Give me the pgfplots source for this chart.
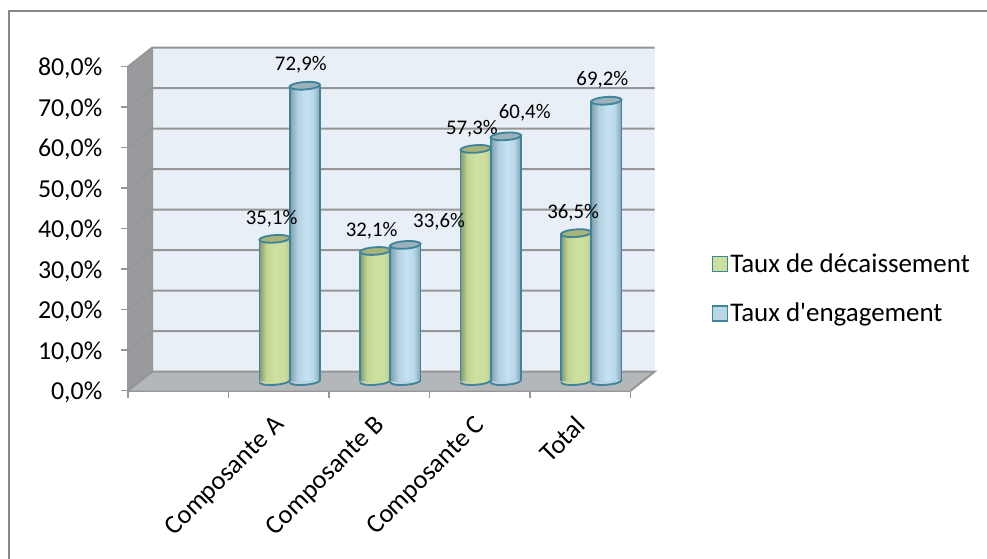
\documentclass[border=0pt]{standalone}
\usepackage{fontspec}
\setmainfont{Carlito}[Ligatures=TeXOff]
\usepackage{pgfplots}
\usepackage{pgfplotstable}
\pgfplotsset{compat=1.18}
\definecolor{edgeC}{HTML}{40849C}
\definecolor{wallC}{HTML}{E8EFF6}
\definecolor{sideC}{HTML}{989A9D}
\definecolor{floorC}{HTML}{B4B7BA}
\definecolor{gridC}{HTML}{969696}
\definecolor{greenFlat}{HTML}{CDDF9D}
\definecolor{blueFlat}{HTML}{B9D6E4}
\definecolor{greenTop}{HTML}{A9B47A}
\definecolor{blueTop}{HTML}{9BB1BC}
\pgfdeclarehorizontalshading{cylgreen}{100bp}{
 rgb(0bp)=(0.52,0.60,0.44);rgb(25bp)=(0.52,0.60,0.44);rgb(36bp)=(0.76,0.84,0.58);rgb(50bp)=(0.81,0.88,0.63);rgb(65bp)=(0.80,0.87,0.62);rgb(75bp)=(0.72,0.80,0.56);rgb(100bp)=(0.72,0.80,0.56)}
\pgfdeclarehorizontalshading{cylblue}{100bp}{
 rgb(0bp)=(0.50,0.62,0.68);rgb(25bp)=(0.50,0.62,0.68);rgb(38bp)=(0.70,0.82,0.88);rgb(52bp)=(0.77,0.89,0.95);rgb(64bp)=(0.72,0.85,0.91);rgb(75bp)=(0.52,0.63,0.69);rgb(100bp)=(0.52,0.63,0.69)}
\pgfdeclareplotmark{topel}{%
 \pgfpathellipse{\pgfpointorigin}{\pgfqpoint{11.4pt}{0.8pt}}{\pgfqpoint{-0.2pt}{2.8pt}}%
 \pgfusepathqfillstroke}
\pgfdeclareplotmark{botel}{%
 \pgfpathmoveto{\pgfqpoint{-11.4pt}{-0.8pt}}%
 \pgfpathcurveto{\pgfqpoint{-11.4pt}{-4.6pt}}{\pgfqpoint{11.4pt}{-3pt}}{\pgfqpoint{11.4pt}{0.8pt}}%
 \pgfusepathqfillstroke}
\pgfplotstableread{
x y base dx dy
1.35 35.1 0 -2.2 14.9
2.35 32.1 0 -2.6 15.0
3.35 57.3 0 -2.8 15.0
4.35 36.5 0 -2.2 15.0
}\greenT
\pgfplotstableread{
x y base dx dy
1.65 72.9 0 -3.0 15.6
2.65 33.6 0 25.3 17.2
3.65 60.4 0 14.2 17.5
4.65 69.2 0 -3.0 15.5
}\blueT
\newcommand{\sz}[1]{\fontsize{#1}{#1}\selectfont}
\begin{document}
\begin{tikzpicture}
\path[use as bounding box] (0,0) rectangle (740.25pt,419.25pt);
\draw[color=gridC!90!black,line width=1.6pt] (7pt,0) -- (7pt,411pt) -- (740.25pt,411pt);
\begin{axis}[
 at={(96pt,126.2pt)},anchor=south west,scale only axis,
 width=376.875pt,height=243pt,clip=false,
 xmin=0,xmax=5,ymin=0,ymax=80,
 axis lines=left,axis line style={-,color=gridC,line width=1.2pt},
 tick style={color=gridC,line width=1.1pt},
 tick align=outside,major tick length=5.25pt,
 xtick={0,1,2,3,4,5},xticklabels={},
 extra x ticks={1.5,2.5,3.5,4.5},
 extra x tick labels={Composante A,Composante B,Composante C,Total},
 extra x tick style={major tick length=0pt,tick label style={xshift=-4.5pt,yshift=-12.5pt,rotate=45,anchor=north east,font=\sz{19.8}}},
 ytick={0,10,...,80},
 /pgf/number format/assume math mode=true,
 yticklabel={\pgfmathprintnumber[fixed,fixed zerofill,precision=1,use comma]{\tick}\%},
 yticklabel style={font=\sz{19.4},xshift=-10.5pt,yshift=-1.5pt},
 unbounded coords=jump,
 legend style={draw=none,fill=none,at={(1.155,0.315)},anchor=west,font=\sz{20.2},
   row sep=17.5pt,legend cell align=left,
   /tikz/every even column/.append style={column sep=4pt}},
]
\addplot[fill=wallC,draw=none,forget plot] coordinates {(0.2388,4.69)(0.2388,84.69)(5.2388,84.69)(5.2388,4.69)} -- cycle;
\addplot[fill=sideC,draw=none,forget plot] coordinates {(0,0)(0,80)(0.2388,84.69)(0.2388,4.69)} -- cycle;
\addplot[fill=floorC,draw=none,forget plot] coordinates {(0,0)(0.2388,4.69)(5.2388,4.69)(5,0)} -- cycle;
\addplot[color=gridC,line width=1.5pt,forget plot] coordinates {
 (0,0)(0.2388,4.69)(5.2388,4.69)(5,0) (nan,nan)
 (0,10)(0.2388,14.69)(5.2388,14.69) (nan,nan)
 (0,20)(0.2388,24.69)(5.2388,24.69) (nan,nan)
 (0,30)(0.2388,34.69)(5.2388,34.69) (nan,nan)
 (0,40)(0.2388,44.69)(5.2388,44.69) (nan,nan)
 (0,50)(0.2388,54.69)(5.2388,54.69) (nan,nan)
 (0,60)(0.2388,64.69)(5.2388,64.69) (nan,nan)
 (0,70)(0.2388,74.69)(5.2388,74.69) (nan,nan)
 (0,80)(0.2388,84.69)(5.2388,84.69) (nan,nan)
 (0.2388,4.69)(0.2388,84.69)
};
\addlegendimage{only marks,mark=square*,mark size=5.6pt,mark options={fill=greenFlat,draw=edgeC,line width=1.2pt}}
\addlegendentry{Taux de décaissement}
\addlegendimage{only marks,mark=square*,mark size=5.6pt,mark options={fill=blueFlat,draw=edgeC,line width=1.2pt}}
\addlegendentry{Taux d'engagement}
\end{axis}
\begin{axis}[
 at={(104.25pt,133.5pt)},anchor=south west,scale only axis,
 width=376.875pt,height=243pt,clip=false,
 xmin=0,xmax=5,ymin=0,ymax=80,hide axis,
 /pgf/number format/assume math mode=true,
]
% green series
\addplot[only marks,mark=botel,mark options={fill=greenFlat,draw=edgeC,line width=1.4pt}] table[x=x,y=base] {\greenT};
\addplot[ybar,bar width=22.8pt,bar shift=0pt,draw=none,shading=cylgreen] coordinates {(1.35,35.1)};
\addplot[ybar,bar width=22.8pt,bar shift=0pt,draw=none,shading=cylgreen] coordinates {(2.35,32.1)};
\addplot[ybar,bar width=22.8pt,bar shift=0pt,draw=none,shading=cylgreen] coordinates {(3.35,57.3)};
\addplot[ybar,bar width=22.8pt,bar shift=0pt,draw=none,shading=cylgreen] coordinates {(4.35,36.5)};
\addplot[ybar,bar width=0pt,bar shift=-11.4pt,draw=edgeC,line width=1.4pt] table[x=x,y=y] {\greenT};
\addplot[ybar,bar width=0pt,bar shift=11.4pt,draw=edgeC,line width=1.4pt] table[x=x,y=y] {\greenT};
\addplot[only marks,mark=topel,mark options={fill=greenTop,draw=edgeC,line width=1.4pt},
 visualization depends on={\thisrow{dx} \as \dxv},
 visualization depends on={\thisrow{dy} \as \dyv},
 nodes near coords={\pgfmathprintnumber[fixed,fixed zerofill,precision=1,use comma]{\pgfplotspointmeta}\%},
 every node near coord/.append style={anchor=center,xshift=\dxv pt,yshift=\dyv pt,font=\sz{15.6},text=black}] table[x=x,y=y] {\greenT};
% blue series
\addplot[only marks,mark=botel,mark options={fill=blueFlat,draw=edgeC,line width=1.4pt}] table[x=x,y=base] {\blueT};
\addplot[ybar,bar width=22.8pt,bar shift=0pt,draw=none,shading=cylblue] coordinates {(1.65,72.9)};
\addplot[ybar,bar width=22.8pt,bar shift=0pt,draw=none,shading=cylblue] coordinates {(2.65,33.6)};
\addplot[ybar,bar width=22.8pt,bar shift=0pt,draw=none,shading=cylblue] coordinates {(3.65,60.4)};
\addplot[ybar,bar width=22.8pt,bar shift=0pt,draw=none,shading=cylblue] coordinates {(4.65,69.2)};
\addplot[ybar,bar width=0pt,bar shift=-11.4pt,draw=edgeC,line width=1.4pt] table[x=x,y=y] {\blueT};
\addplot[ybar,bar width=0pt,bar shift=11.4pt,draw=edgeC,line width=1.4pt] table[x=x,y=y] {\blueT};
\addplot[only marks,mark=topel,mark options={fill=blueTop,draw=edgeC,line width=1.4pt},
 visualization depends on={\thisrow{dx} \as \dxv},
 visualization depends on={\thisrow{dy} \as \dyv},
 nodes near coords={\pgfmathprintnumber[fixed,fixed zerofill,precision=1,use comma]{\pgfplotspointmeta}\%},
 every node near coord/.append style={anchor=center,xshift=\dxv pt,yshift=\dyv pt,font=\sz{15.6},text=black}] table[x=x,y=y] {\blueT};
\end{axis}
\end{tikzpicture}
\end{document}
